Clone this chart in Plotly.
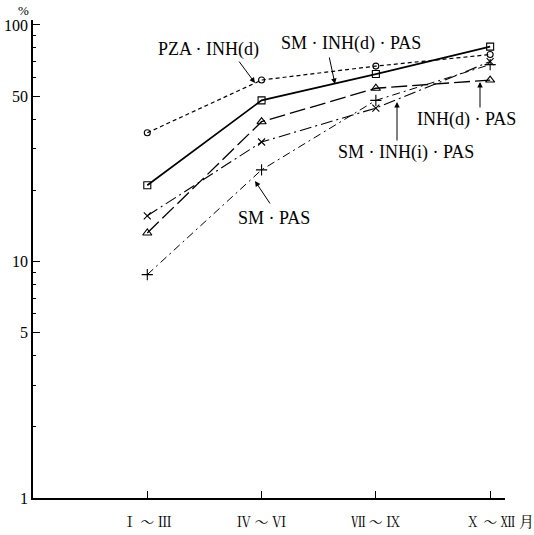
import plotly.graph_objects as go

periods = ["Ⅰ ～ Ⅲ", "Ⅳ ～ Ⅵ", "Ⅶ ～ Ⅸ", "Ⅹ ～ Ⅻ"]

pza_inh_d = [35, 58.5, 67, 75]
sm_inh_d_pas = [21, 48, 62, 81]
inh_d_pas = [13.2, 39, 54, 58.5]
sm_inh_i_pas = [15.6, 32, 44.5, 70]
sm_pas = [8.8, 24.4, 48, 68]

ytick_vals = [1, 5, 10, 50, 100]
ytick_text = ["1", "5", "10", "50", "100"]
minor_vals = [2, 3, 4, 6, 7, 8, 9, 20, 30, 40, 60, 70, 80, 90]

W, H = 534, 535
ML, MR, MT, MB = 33, 29, 20, 37
FONT = "Liberation Serif, Noto Serif CJK JP, Noto Sans CJK JP, serif"

fig = go.Figure()

def add(vals, symbol, size, dash, width, name):
    fig.add_trace(go.Scatter(
        x=list(range(len(periods))), y=vals, mode="lines+markers", name=name,
        line=dict(color="black", width=width, dash=dash),
        marker=dict(symbol=symbol, size=size, color="black",
                    line=dict(color="black", width=1.1)),
        cliponaxis=False,
    ))

add(pza_inh_d, "circle-open", 6, "4px,3px", 1.2, "PZA · INH(d)")
add(sm_inh_d_pas, "square-open", 7, "solid", 1.7, "SM · INH(d) · PAS")
add(inh_d_pas, "triangle-up-open", 8, "16px,5px", 1.3, "INH(d) · PAS")
add(sm_inh_i_pas, "x-thin-open", 7, "12px,4px,2px,4px", 1.1, "SM · INH(i) · PAS")
add(sm_pas, "cross-thin-open", 8, "8px,4px,2px,4px", 1.0, "SM · PAS")

plot_w = W - ML - MR
plot_h = H - MT - MB
def px(x):
    return (x - ML) / plot_w
def py(y):
    return (H - MB - y) / plot_h

def text(t, x, y, size):
    fig.add_annotation(text=t, x=px(x), y=py(y), xref="paper", yref="paper",
                       xanchor="center", yanchor="middle", showarrow=False,
                       font=dict(family=FONT, size=size, color="black"))

labels = [
    ("PZA · INH(d)", 208, 49),
    ("SM · INH(d) · PAS", 351, 43),
    ("INH(d) · PAS", 466, 119),
    ("SM · INH(i) · PAS", 406, 152),
    ("SM · PAS", 274, 218),
]
for t, x, y in labels:
    text(t, x, y, 18)

arrows = [
    (255, 83, 238, 60),
    (335, 84, 329, 56),
    (480, 82, 480, 109),
    (397, 102, 397, 142),
    (255, 181, 271, 205),
]
for tx, ty, sx, sy in arrows:
    fig.add_annotation(x=px(tx), y=py(ty), xref="paper", yref="paper", text="",
                       showarrow=True, ax=sx - tx, ay=sy - ty, axref="pixel", ayref="pixel",
                       arrowhead=2, arrowsize=1.1, arrowwidth=1, arrowcolor="black")

text("%", 23, 11, 13)
text("月", 526, 522, 15)

fig.update_layout(
    width=W, height=H, margin=dict(l=ML, r=MR, t=MT, b=MB, autoexpand=False),
    paper_bgcolor="white", plot_bgcolor="white", showlegend=False,
    font=dict(family=FONT, color="black"),
    xaxis=dict(
        range=[-1.0, 3.13], tickvals=list(range(len(periods))), ticktext=periods,
        showgrid=False, zeroline=False, showline=True, linecolor="black", linewidth=1.6,
        ticks="inside", ticklen=7, tickcolor="black", tickwidth=1.2,
        ticklabelstandoff=10,
        tickfont=dict(family=FONT, size=14, color="black"),
    ),
    yaxis=dict(
        type="log", range=[0, 2.021], tickvals=ytick_vals, ticktext=ytick_text,
        showgrid=False, zeroline=False, showline=True, linecolor="black", linewidth=1.6,
        ticks="inside", ticklen=7, tickcolor="black", tickwidth=1.2,
        tickfont=dict(family=FONT, size=16, color="black"),
        minor=dict(tickvals=minor_vals, ticks="inside", ticklen=3, tickcolor="black",
                   tickwidth=1, showgrid=False),
    ),
)

fig.write_html("out.html", config={"displayModeBar": False},
               post_script="document.body.style.margin='0';")
